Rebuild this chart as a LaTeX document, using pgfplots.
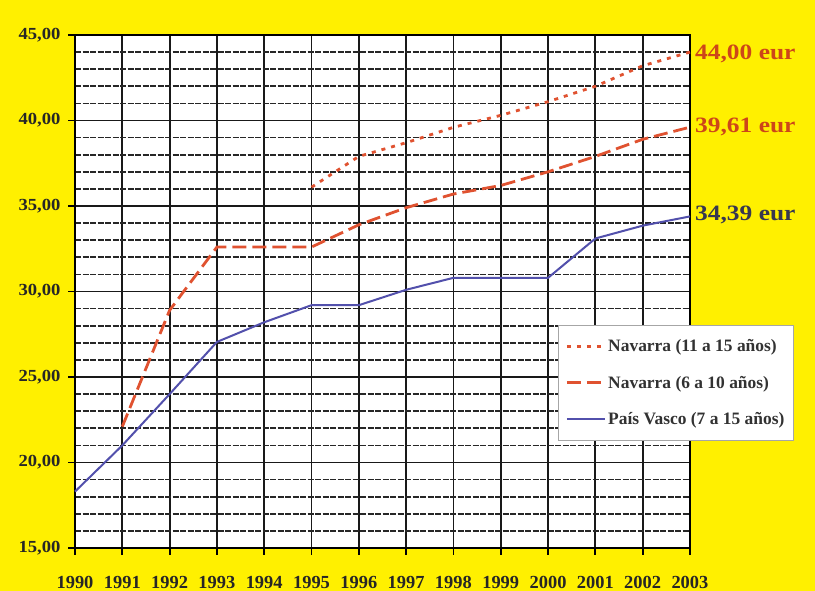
\documentclass[border=0pt]{standalone}
\usepackage{pgfplots}
\pgfplotsset{compat=1.18}
\usepackage{fontspec}
\setmainfont{Liberation Serif}
\newfontfamily\ylfont[FakeStretch=1.1]{Liberation Serif}
\newfontfamily\widefont[FakeStretch=1.16]{Liberation Serif}
\definecolor{bgyellow}{RGB}{255,240,0}
\definecolor{navred}{RGB}{224,82,48}
\definecolor{vasblue}{RGB}{82,80,172}
\definecolor{lblred}{RGB}{205,70,25}
\definecolor{lbldark}{RGB}{55,55,80}
\definecolor{legtext}{RGB}{50,50,50}
\begin{document}
\begin{tikzpicture}[x=1bp,y=1bp]
\path[use as bounding box] (0,0) rectangle (815,591);
\fill[bgyellow] (0,0) rectangle (815,591);
\begin{axis}[
  at={(75bp,43bp)}, anchor=south west,
  scale only axis, width=615bp, height=513bp,
  xmin=1990, xmax=2003, ymin=15, ymax=45,
  clip=false,
  axis background/.style={fill=white},
  xtick={1990,...,2003},
  xticklabels={1990,1991,1992,1993,1994,1995,1996,1997,1998,1999,2000,2001,2002,2003},
  ytick={15,20,25,30,35,40,45},
  yticklabels={{15,00},{20,00},{25,00},{30,00},{35,00},{40,00},{45,00}},
  minor y tick num=4,
  tick align=outside, xtick pos=bottom, ytick pos=left,
  major tick length=7bp, minor tick length=0bp,
  tick style={black, line width=1.8bp},
  xmajorgrids, ymajorgrids, yminorgrids,
  major grid style={black!90, line width=1.8bp},
  minor grid style={black!85, line width=1.7bp, dash pattern=on 6bp off 1.5bp},
  axis line style={black, line width=2bp},
  xticklabel style={font=\fontsize{18.5}{18.5}\selectfont\bfseries, text=black!85, inner sep=1bp, yshift=-20bp},
  yticklabel style={font=\fontsize{17}{17}\ylfont\bfseries, text=black!85, xshift=-4bp},
  legend style={at={(0.7854,0.4347)}, anchor=north west, draw=gray!70, line width=0.8bp, fill=white,
    font=\fontsize{17.5}{18}\selectfont\bfseries, text=legtext,
    row sep=19bp, inner xsep=7bp, inner ysep=12bp},
  legend cell align=left,
  legend image code/.code={\draw[#1] (0bp,0bp) -- (38bp,0bp);},
]
\addplot[navred, line width=2.8bp, dash pattern=on 4bp off 6bp] coordinates {
 (1995,36.1) (1996,37.9) (1997,38.7) (1998,39.6) (1999,40.3) (2000,41.1) (2001,42.0) (2002,43.2) (2003,44.0)};
\addlegendentry{Navarra (11 a 15 años)}
\addplot[navred, line width=2.8bp, dash pattern=on 14bp off 6bp] coordinates {
 (1991,22.1) (1992,28.9) (1993,32.6) (1994,32.6) (1995,32.6) (1996,33.9) (1997,34.9) (1998,35.7) (1999,36.2) (2000,37.0) (2001,37.9) (2002,38.9) (2003,39.61)};
\addlegendentry{Navarra (6 a 10 años)}
\addplot[vasblue, line width=2bp] coordinates {
 (1990,18.3) (1991,21.0) (1992,24.0) (1993,27.05) (1994,28.2) (1995,29.2) (1996,29.2) (1997,30.1) (1998,30.8) (1999,30.8) (2000,30.8) (2001,33.1) (2002,33.85) (2003,34.39)};
\addlegendentry{País Vasco (7 a 15 años)}
\node[anchor=west, inner sep=0pt, xshift=5bp, text=lblred, font=\fontsize{22}{22}\widefont\bfseries] at (axis cs:2003,43.9) {44,00 eur};
\node[anchor=west, inner sep=0pt, xshift=5bp, text=lblred, font=\fontsize{22}{22}\widefont\bfseries] at (axis cs:2003,39.62) {39,61 eur};
\node[anchor=west, inner sep=0pt, xshift=5bp, text=lbldark, font=\fontsize{22}{22}\widefont\bfseries] at (axis cs:2003,34.5) {34,39 eur};
\end{axis}
\end{tikzpicture}
\end{document}
